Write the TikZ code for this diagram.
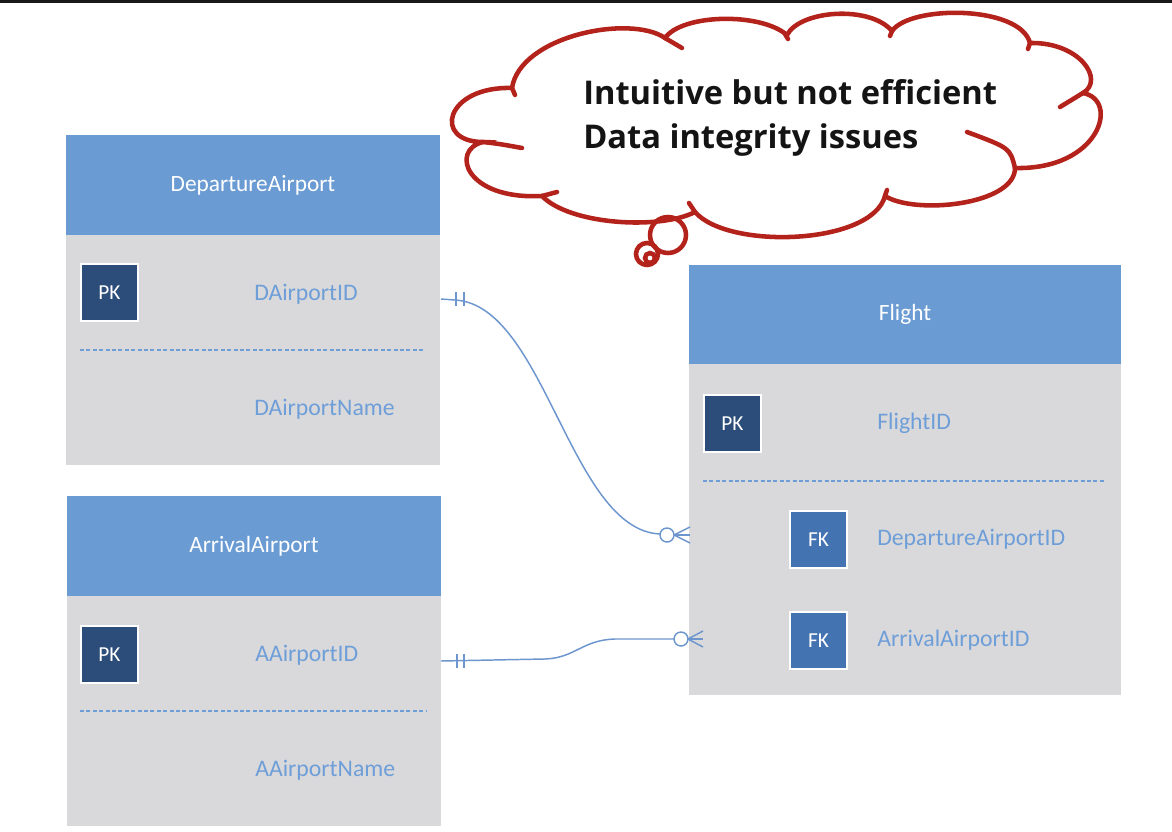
\documentclass[tikz,border=0pt]{standalone}
\usepackage{fontspec}
\setmainfont{Carlito}
\newfontfamily\notefont{Open Sans}
\usetikzlibrary{positioning}
\newcommand{\ERpx}{0.75}

\definecolor{headblue}{HTML}{6A9BD3}
\definecolor{bodygray}{HTML}{D9D9DB}
\definecolor{pkblue}{HTML}{2C4D79}
\definecolor{fkblue}{HTML}{4473B1}
\definecolor{fieldblue}{HTML}{6E9ED8}
\definecolor{relblue}{HTML}{6D96CE}
\definecolor{cloudred}{HTML}{B3221B}

\tikzset{
  tblhead/.style={fill=headblue, text=white, inner sep=0pt, outer sep=0pt, anchor=north west, font=\fontsize{17.5}{20}\selectfont},
  tblbody/.style={fill=bodygray, inner sep=0pt, outer sep=0pt},
  keybox/.style={draw=white, line width=1.5pt, text=white, minimum size=57*\ERpx pt, inner sep=0pt, anchor=north west, font=\fontsize{16}{18}\selectfont},
  field/.style={text=fieldblue, anchor=base west, inner sep=0pt, font=\fontsize{17.8}{20}\selectfont},
  sepline/.style={draw=fieldblue, dash pattern=on 3pt off 1.8pt, line width=1.2pt},
  rel/.style={draw=relblue, line width=1.1pt},
  cloudline/.style={draw=cloudred, line width=3.4pt, line cap=round},
  note/.style={anchor=base west, inner sep=0pt, text=black!92, font=\notefont\bfseries\fontsize{24.5}{28}\selectfont}
}

\begin{document}
\begin{tikzpicture}[x=\ERpx pt, y=-\ERpx pt]
	\useasboundingbox (0,0) rectangle (1172,832);
	\fill[black!90] (0,0) rectangle (1172,2.5);

	% departure airport
	\node[tblhead, minimum width=374*\ERpx pt, minimum height=100*\ERpx pt] (dhead) at (66,135) {DepartureAirport};
	\node[tblbody, minimum width=374*\ERpx pt, minimum height=230*\ERpx pt, below=0pt of dhead] (dbody) {};
	\node[keybox, fill=pkblue] (dpk) at (80,263) {PK};
	\node[field] (did) at (254,300) {DAirportID};
	\node[field] (dname) at (254,415) {DAirportName};
	\draw[sepline] (80,350) -- (425,350);

	% arrival airport
	\node[tblhead, minimum width=374*\ERpx pt, minimum height=100*\ERpx pt] (ahead) at (67,496) {ArrivalAirport};
	\node[tblbody, minimum width=374*\ERpx pt, minimum height=230*\ERpx pt, below=0pt of ahead] (abody) {};
	\node[keybox, fill=pkblue] (apk) at (80,625) {PK};
	\node[field] (aid) at (255,661) {AAirportID};
	\node[field] (aname) at (255,776) {AAirportName};
	\draw[sepline] (80,711) -- (426,711);

	% flight
	\node[tblhead, minimum width=432*\ERpx pt, minimum height=99*\ERpx pt] (fhead) at (689,265) {Flight};
	\node[tblbody, minimum width=432*\ERpx pt, minimum height=331*\ERpx pt, below=0pt of fhead] (fbody) {};
	\node[keybox, fill=pkblue] (fpk) at (703,394) {PK};
	\node[field] (fid) at (877,429) {FlightID};
	\draw[sepline] (703,481) -- (1106,481);
	\node[keybox, fill=fkblue] (ffk1) at (789,510) {FK};
	\node[field] (fdep) at (877,545) {DepartureAirportID};
	\node[keybox, fill=fkblue] (ffk2) at (789,611) {FK};
	\node[field] (farr) at (877,646) {ArrivalAirportID};

	% relationships
	\coordinate (dep1) at (441,299);
	\coordinate (dep2) at (660,534);
	\coordinate (arr1) at (441,661);
	\coordinate (arr2) at (674,639);
	\draw[rel] (dep1) -- (455,300) .. controls (545,305) and (570,530) .. (dep2);
	\draw[rel] (arr1) -- (545,659) .. controls (575,658) and (582,640) .. (615,639) -- (arr2);
	\foreach \bx in {456,464} \draw[rel] (\bx,292) -- (\bx,306);
	\foreach \bx in {457,464} \draw[rel] (\bx,654) -- (\bx,668);
	\draw[rel] (667,535) circle [radius=7*\ERpx pt];
	\draw[rel] (681,639) circle [radius=7*\ERpx pt];
	\foreach \dy in {-8,0,8} \draw[rel] (674,535) -- (690,535+\dy);
	\foreach \dy in {-8,0,8} \draw[rel] (688,639) -- (703,639+\dy);

	% thought cloud
	\draw[cloudline, fill=white] (483,142)
		.. controls (432,142) and (445,86) .. (512,88)
		.. controls (520,36) and (630,14) .. (665,38)
		.. controls (682,14) and (760,12) .. (787,35)
		.. controls (800,10) and (870,5) .. (892,31)
		.. controls (910,5) and (1020,5) .. (1030,43)
		.. controls (1080,42) and (1105,80) .. (1083,93)
		.. controls (1120,100) and (1100,170) .. (1015,168)
		.. controls (1015,205) and (915,215) .. (885,196)
		.. controls (872,245) and (728,250) .. (695,212)
		.. controls (660,230) and (570,225) .. (542,196)
		.. controls (465,200) and (450,150) .. cycle;
	\draw[cloudline] (483,142) .. controls (500,144) .. (522,148);
	\draw[cloudline] (512,88) -- (515,95);
	\draw[cloudline] (665,38) -- (682,48);
	\draw[cloudline] (785,34) -- (788,39);
	\draw[cloudline] (892,31) -- (890,36);
	\draw[cloudline] (1030,43) -- (1028,49);
	\draw[cloudline] (1083,93) -- (1060,107);
	\draw[cloudline] (1015,168) .. controls (1010,148) .. (967,132);
	\draw[cloudline] (885,196) -- (887,190);
	\draw[cloudline] (695,212) -- (689,203);
	\draw[cloudline] (542,196) -- (557,192);
	\node[note] (l1) at (583,104) {Intuitive but not efficient};
	\node[note] (l2) at (583,148) {Data integrity issues};
	\draw[cloudline] (668,235) circle [radius=18*\ERpx pt];
	\draw[cloudline] (647,254) circle [radius=11*\ERpx pt];
	\draw[cloudline] (650,258) circle [radius=5*\ERpx pt];
\end{tikzpicture}
\end{document}
